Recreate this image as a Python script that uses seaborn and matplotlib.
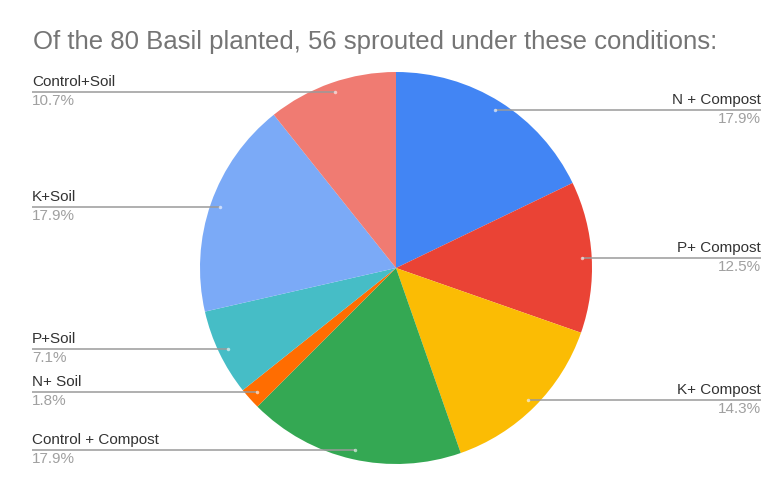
import numpy as np
import matplotlib
matplotlib.use("Agg")
import matplotlib.pyplot as plt
import seaborn as sns

# Sprouted basil counts per condition (56 of 80 planted)
conditions = ["N + Compost", "P+ Compost", "K+ Compost", "Control + Compost",
              "N+ Soil", "P+Soil", "K+Soil", "Control+Soil"]
sprouted = [10, 7, 8, 10, 1, 4, 10, 6]
slice_colors = ["#4285F4", "#EA4335", "#FBBC04", "#34A853",
                "#FF6D01", "#46BDC6", "#7BAAF7", "#F07B72"]
title_text = "Of the 80 Basil planted, 56 sprouted under these conditions:"

sns.set_theme(style="white")
plt.rcParams["font.family"] = ["Liberation Sans", "DejaVu Sans"]
palette = sns.color_palette(slice_colors)

W, H = 773, 480
fig = plt.figure(figsize=(W / 100, H / 100), dpi=100)
ax = fig.add_axes([0, 0, 1, 1])

cx, cy, R = 396, H - 268, 196
ax.pie(sprouted, colors=palette, startangle=90, counterclock=False,
       center=(cx, cy), radius=R, wedgeprops=dict(linewidth=0))
ax.set_xlim(0, W)
ax.set_ylim(0, H)
ax.set_aspect("equal")
ax.axis("off")

fig.text(33 / W, 1 - 42 / H, title_text, fontsize=18.5, color="#757575",
         ha="left", va="center")

total = sum(sprouted)
start = 0.0
for name, v in zip(conditions, sprouted):
    sweep = 360.0 * v / total
    mid = np.deg2rad(start + sweep / 2)
    start += sweep
    px = cx + 0.95 * R * np.sin(mid)
    py = cy + 0.95 * R * np.cos(mid)
    pct = f"{100.0 * v / total:.1f}%"
    if px >= cx:
        x_end, ha = 761, "right"
    else:
        x_end, ha = 32, "left"
    ax.plot([min(px, x_end), max(px, x_end)], [py, py], color="#9a9a9a",
            lw=1.1, solid_capstyle="butt")
    ax.text(x_end, py + 3, name, ha=ha, va="bottom", fontsize=11, color="#333333")
    ax.text(x_end, py - 2, pct, ha=ha, va="top", fontsize=11, color="#a0a0a0")
    ax.plot(px, py, marker="o", ms=2.5, color="white", alpha=0.6, mew=0)

fig.savefig("out.png", dpi=100)
